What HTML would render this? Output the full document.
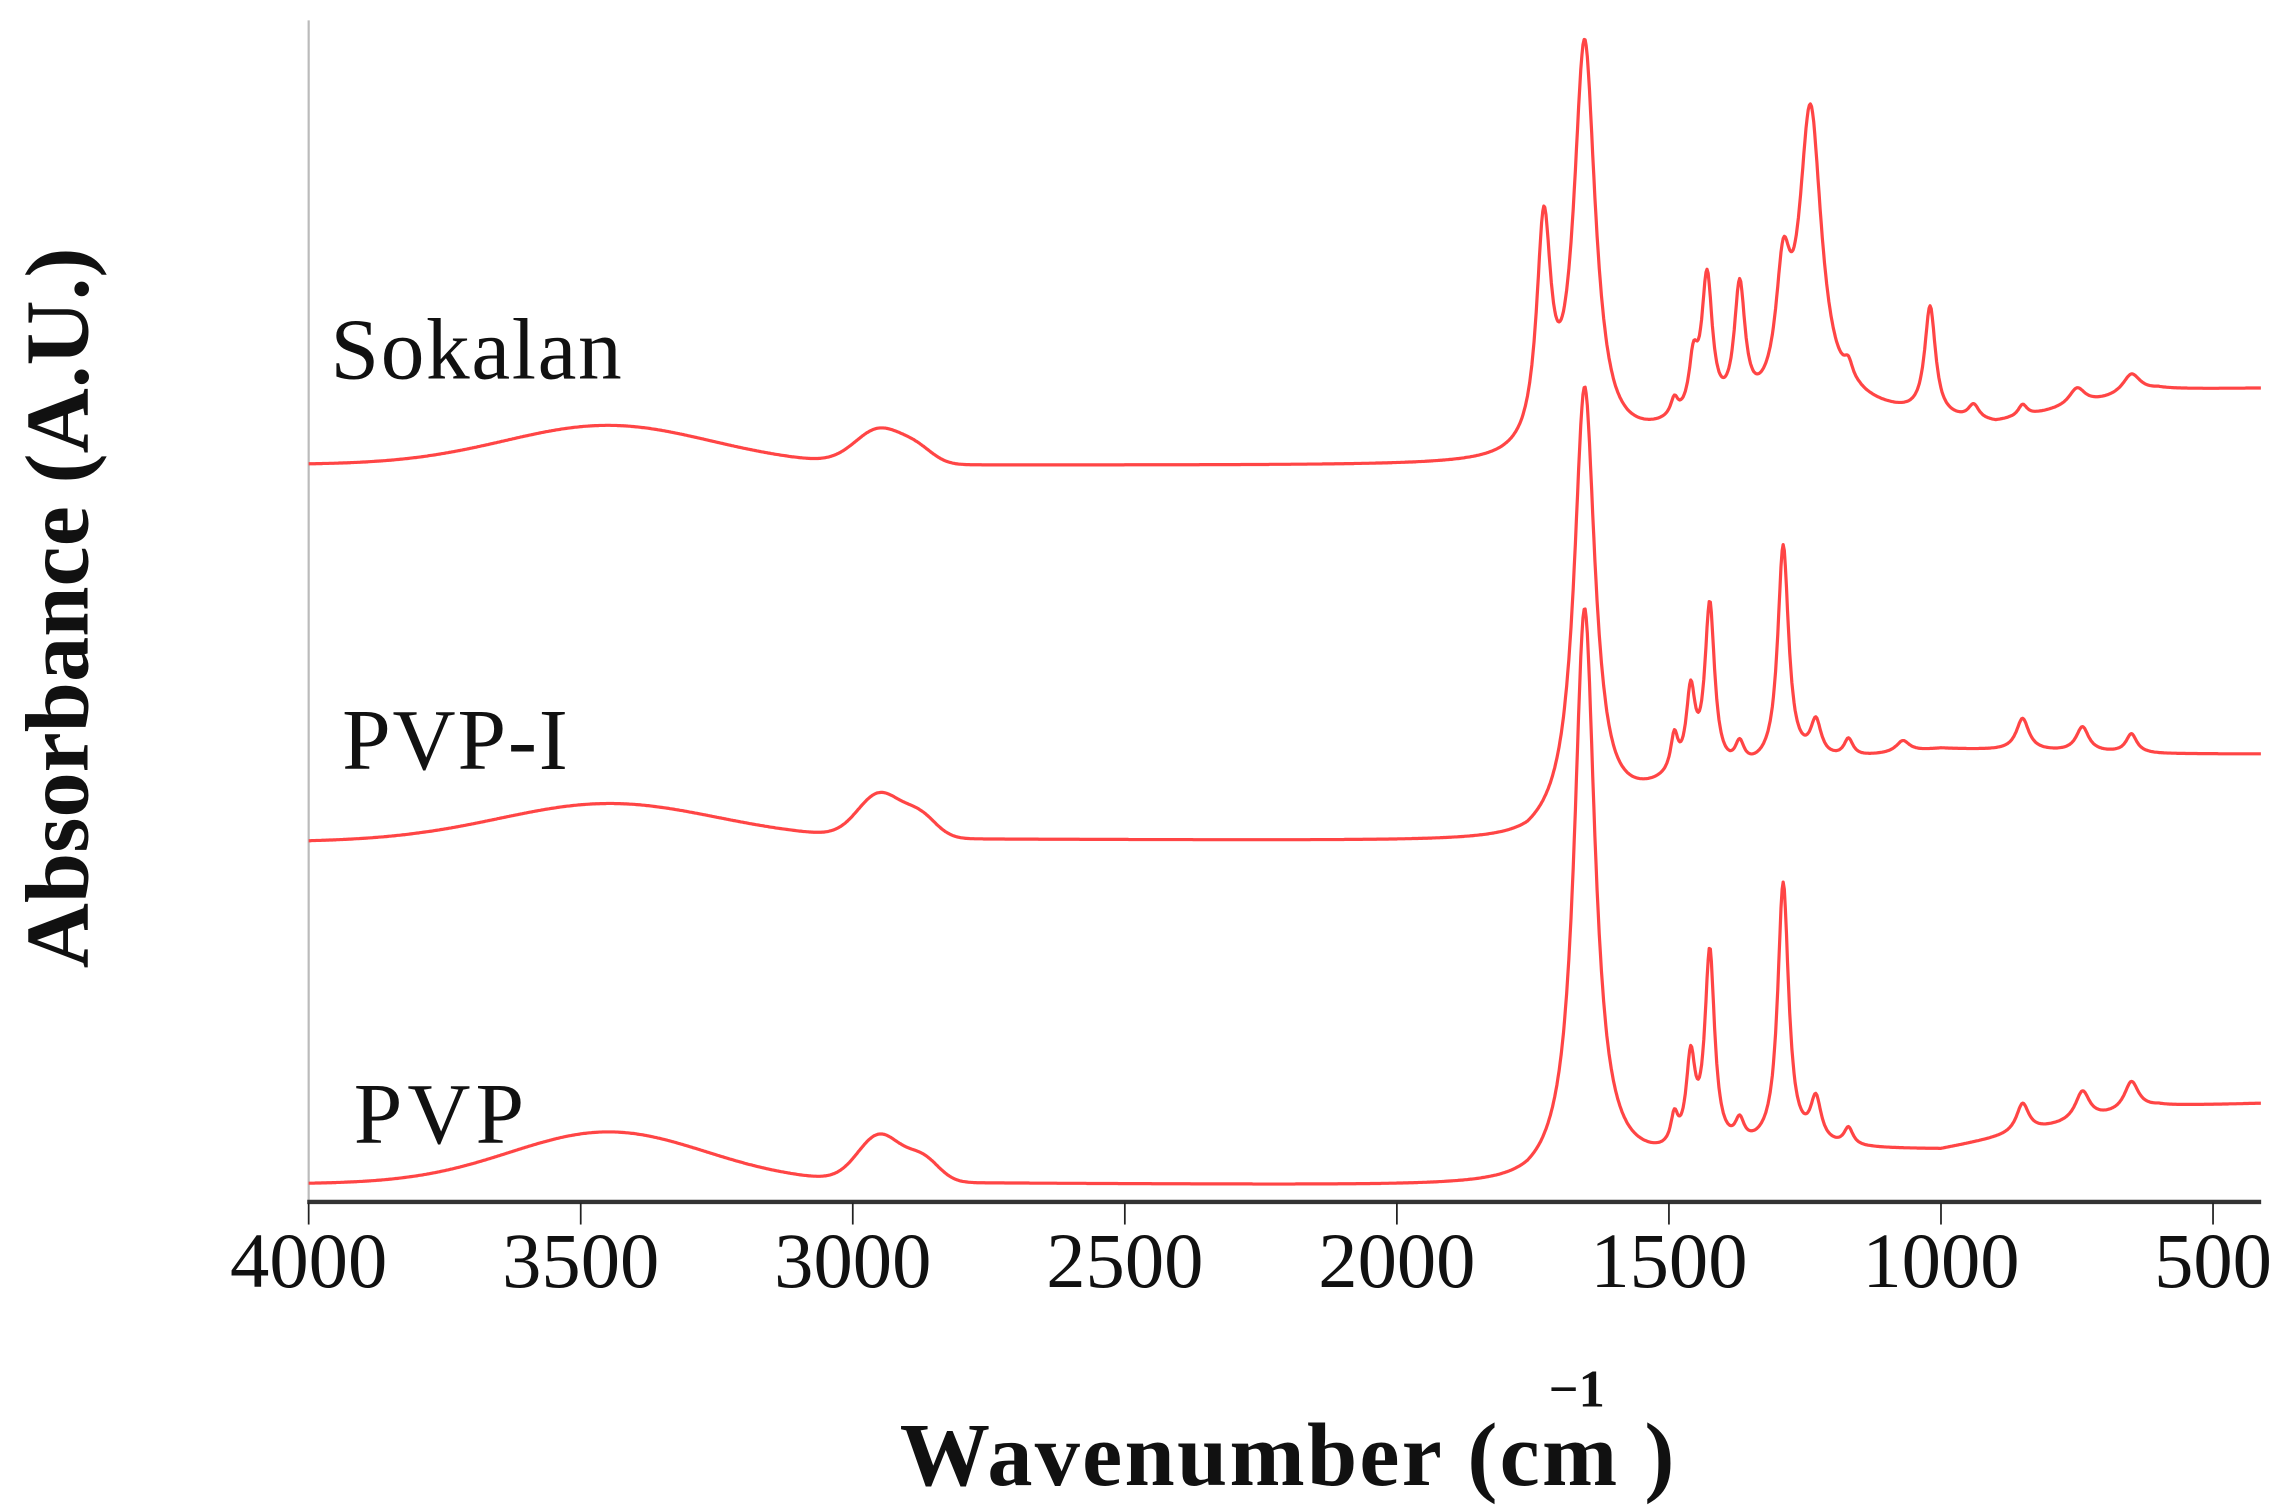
<!DOCTYPE html>
<html><head><meta charset="utf-8"><style>html,body{margin:0;padding:0;background:#fff;}svg{display:block}</style></head>
<body>
<svg id="s" xmlns="http://www.w3.org/2000/svg" width="2283" height="1507" viewBox="0 0 1568 1035" preserveAspectRatio="none">
<rect width="1568" height="1035" fill="#fff"/>
<line x1="212" y1="14" x2="212" y2="826" stroke="#bbb" stroke-width="1.5"/>
<line x1="211" y1="825.5" x2="1553" y2="825.5" stroke="#333" stroke-width="3"/>
<g stroke="#222" stroke-width="1.2" id="ticks"></g>
<g font-family="Liberation Serif, serif" font-size="54" fill="#111" text-anchor="middle" id="tl"></g>
<g font-family="Liberation Serif, serif" font-size="60" fill="#111">
<text x="227" y="260" textLength="200">Sokalan</text>
<text x="235" y="528" textLength="155">PVP-I</text>
<text x="243" y="785" textLength="117">PVP</text>
</g>
<text x="618" y="1020" font-family="Liberation Serif, serif" font-size="62" font-weight="bold" fill="#111" textLength="532">Wavenumber (cm    )</text>
<text x="1083" y="966" font-family="Liberation Serif, serif" font-size="36" font-weight="bold" text-anchor="middle" fill="#111">−1</text>
<text transform="translate(60,665) rotate(-90)" font-family="Liberation Serif, serif" font-size="62" font-weight="bold" fill="#111" textLength="495">Absorbance (A.U.)</text>
<g id="curves" fill="none" stroke="#ff4545" stroke-width="2.2" stroke-linejoin="round"></g>
</svg>
<script>
var NS="http://www.w3.org/2000/svg";
function X(w){return 212+(4000-w)*0.3737;}
var tk=document.getElementById('ticks'),tl=document.getElementById('tl');
for(var w=4000;w>=500;w-=500){var l=document.createElementNS(NS,'line');l.setAttribute('x1',X(w));l.setAttribute('x2',X(w));l.setAttribute('y1',826);l.setAttribute('y2',841);tk.appendChild(l);
var t=document.createElementNS(NS,'text');t.setAttribute('x',X(w));t.setAttribute('y',884);t.textContent=w;tl.appendChild(t);}
function interp(pts,w){for(var i=0;i<pts.length-1;i++){var a=pts[i],b=pts[i+1];if(w<=a[0]&&w>=b[0]){var f=(a[0]-w)/(a[0]-b[0]);return a[1]+f*(b[1]-a[1]);}}return pts[pts.length-1][1];}
function spec(base,gs,ls){var d='';for(var w=4000;w>=411;w-=2){var y=interp(base,w);
gs.forEach(function(g){y-=g[1]*Math.exp(-Math.pow((w-g[0])/g[2],2)/2);});
ls.forEach(function(p){var u=(w-p[0])/p[2];y-=p[1]/(1+u*u);});
d+=(d?'L':'M')+X(w).toFixed(1)+' '+y.toFixed(1);}
var pa=document.createElementNS(NS,'path');pa.setAttribute('d',d);document.getElementById('curves').appendChild(pa);}
// Sokalan
spec([[4000,319],[1760,320],[1600,312],[1500,300],[1150,282],[1000,290],[900,292],[600,268],[411,267]],
 [[3450,27,190],[2950,24,45],[2880,8,30]],
 [[1730,150,16],[1655,280,24],[1490,12,8],[1455,35,10],[1430,95,12],[1370,85,12],[1290,80,16],[1240,205,25],[1170,12,10],[1020,75,12],[940,10,12],[850,8,10],[750,12,18],[650,14,20]]);
// PVP-I
spec([[4000,578],[3000,576],[1760,578],[1600,560],[1500,542],[1300,528],[1000,515],[600,518],[411,518]],
 [[3450,25,200],[2950,30,40],[2875,14,30]],
 [[1655,300,23],[1490,25,8],[1460,55,10],[1425,115,11],[1370,15,10],[1290,150,12],[1230,25,12],[1170,12,10],[1070,8,15],[850,22,14],[740,17,14],[650,13,12]]);
// PVP
spec([[4000,813],[3000,812],[1760,815],[1600,805],[1500,800],[1300,790],[1000,790],[600,760],[411,758]],
 [[3450,35,180],[2950,32,40],[2870,15,30]],
 [[1655,390,23],[1490,20,8],[1460,60,10],[1425,135,11],[1370,15,10],[1290,180,12],[1230,30,12],[1170,12,10],[850,20,14],[740,20,16],[650,20,16]]);
</script>
</body></html>
